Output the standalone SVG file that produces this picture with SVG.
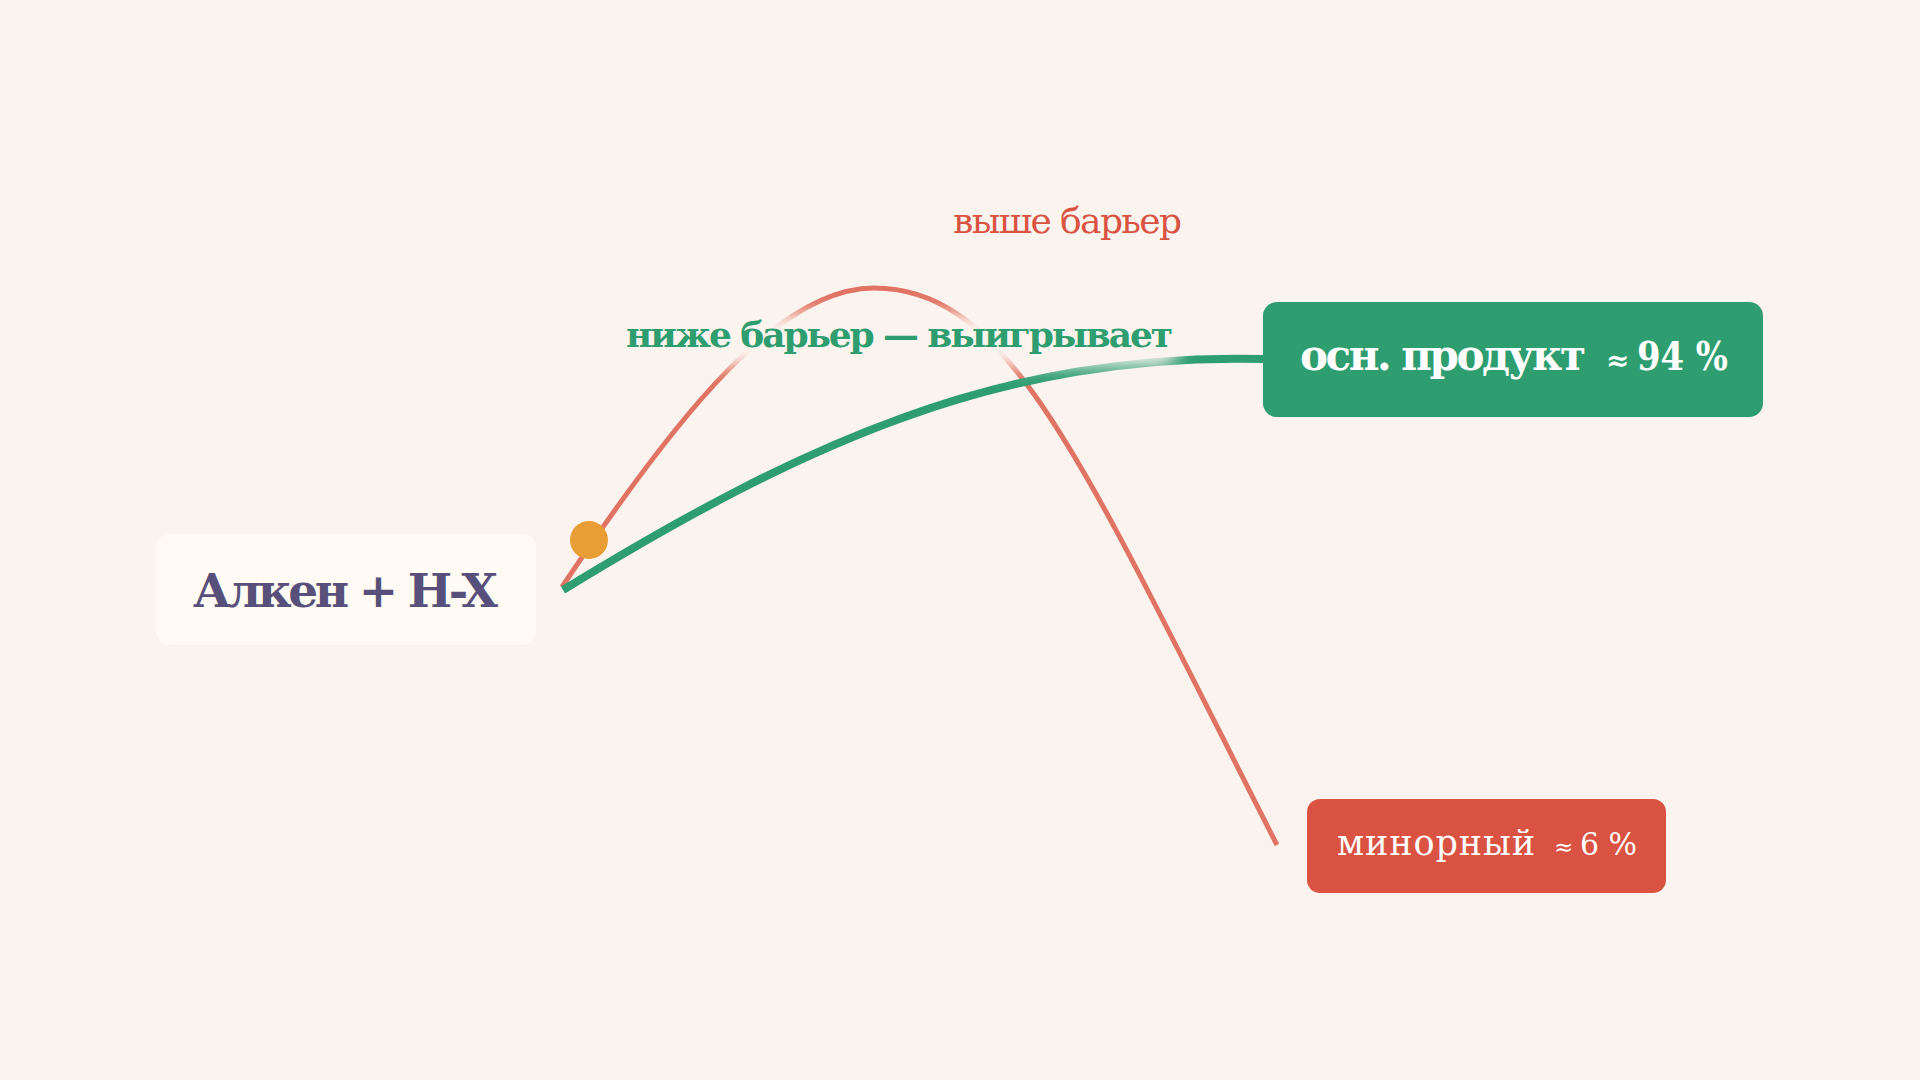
<svg xmlns="http://www.w3.org/2000/svg" width="1920" height="1080" viewBox="0 0 1920 1080">
<style>
.serif{font-family:"DejaVu Serif","Liberation Serif",serif;}
</style>
<defs>
<filter id="halo" x="-20%" y="-80%" width="140%" height="260%">
<feGaussianBlur stdDeviation="9"/>
</filter>
</defs>
<rect x="0" y="0" width="1920" height="1080" fill="#fbf4ee"/>
<g id="connectors" fill="none" stroke-linecap="butt">
<path id="path-minor" d="M562,587 C680,410 780,288 874,288 C1010,288 1081,460 1277,845" stroke="#e07363" stroke-width="5"/>
<path id="path-major" d="M563,590 C800,445 1000,352 1264,359" stroke="#2e9e70" stroke-width="8"/>
</g>
<g id="label-halo">
<rect x="628" y="314" width="552" height="52" rx="22" fill="#fbf4ee" filter="url(#halo)"/>
</g>
<g id="dot">
<circle cx="589" cy="540" r="19" fill="#e89d35"/>
</g>
<g id="node-reactants">
<rect x="156" y="534" width="380" height="111" rx="14" fill="#fffaf4"/>
<text class="serif" x="193" y="607" font-size="47" font-weight="bold" fill="#56507a" textLength="305" lengthAdjust="spacing">Алкен + H-X</text>
</g>
<g id="node-major">
<rect x="1263" y="302" width="500" height="115" rx="14" fill="#2e9e70"/>
<text class="serif" y="370" font-size="42" font-weight="bold" fill="#ffffff"><tspan x="1300" textLength="286" lengthAdjust="spacing">осн. продукт</tspan><tspan x="1606" font-size="28">≈</tspan><tspan x="1637" font-size="40" textLength="91" lengthAdjust="spacingAndGlyphs">94 %</tspan></text>
</g>
<g id="node-minor">
<rect x="1307" y="799" width="359" height="94" rx="13" fill="#d95242"/>
<text class="serif" y="855" font-size="35" fill="#ffffff"><tspan x="1337" textLength="198" lengthAdjust="spacing">минорный</tspan><tspan x="1554" font-size="23">≈</tspan><tspan x="1580" font-size="31" textLength="57" lengthAdjust="spacingAndGlyphs">6 %</tspan></text>
</g>
<g id="labels">
<text class="serif" x="953" y="233" font-size="36" fill="#d95242" textLength="229" lengthAdjust="spacing">выше барьер</text>
<text class="serif" x="626" y="347" font-size="36" font-weight="bold" fill="#2e9e70" textLength="547" lengthAdjust="spacing">ниже барьер — выигрывает</text>
</g>
</svg>
